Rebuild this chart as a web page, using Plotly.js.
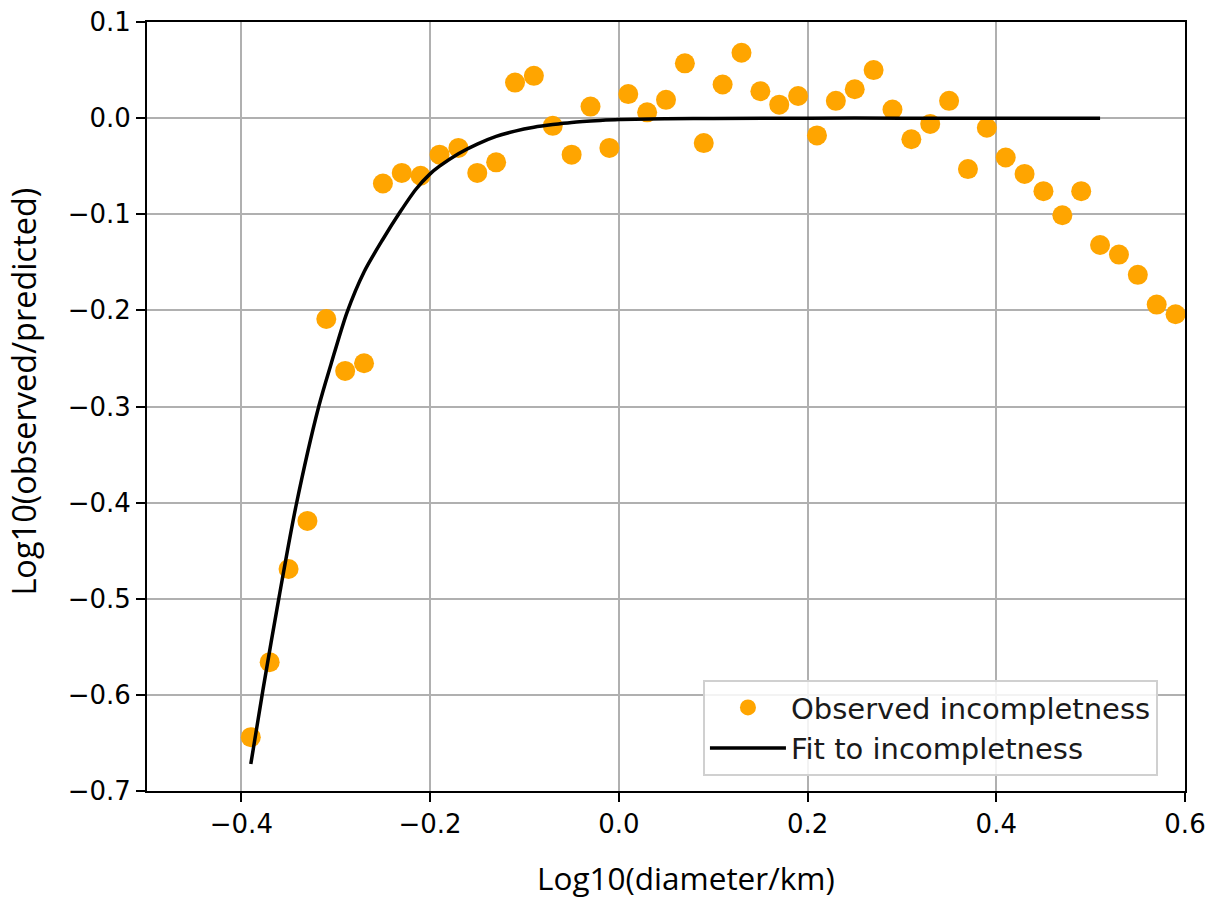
<!DOCTYPE html>
<html>
<head>
<meta charset="utf-8">
<script src="https://cdn.plot.ly/plotly-3.0.1.min.js"></script>
<style>
  html, body { margin: 0; padding: 0; background: #ffffff; }
  #chart { width: 1216px; height: 902px; }
</style>
</head>
<body>
<div id="chart"></div>
<script>
// Observed incompleteness points
const obsX = [-0.39, -0.37, -0.35, -0.33, -0.31, -0.29, -0.27, -0.25, -0.23, -0.21,
              -0.19, -0.17, -0.15, -0.13, -0.11, -0.09, -0.07, -0.05, -0.03, -0.01,
               0.01,  0.03,  0.05,  0.07,  0.09,  0.11,  0.13,  0.15,  0.17,  0.19,
               0.21,  0.23,  0.25,  0.27,  0.29,  0.31,  0.33,  0.35,  0.37,  0.39,
               0.41,  0.43,  0.45,  0.47,  0.49,  0.51,  0.53,  0.55,  0.57,  0.59];
const obsY = [-0.644, -0.566, -0.469, -0.419, -0.209, -0.263, -0.255, -0.068, -0.057, -0.060,
              -0.038, -0.031, -0.057, -0.046,  0.037,  0.044, -0.008, -0.038,  0.012, -0.031,
               0.025,  0.006,  0.019,  0.057, -0.026,  0.035,  0.068,  0.028,  0.014,  0.023,
              -0.018,  0.018,  0.030,  0.050,  0.009, -0.022, -0.006,  0.018, -0.053, -0.010,
              -0.041, -0.058, -0.076, -0.101, -0.076, -0.132, -0.142, -0.163, -0.194, -0.204];

// Fit curve, points
const fitX = [-0.39, -0.377, -0.36, -0.342, -0.318, -0.305, -0.288, -0.27, -0.25, -0.232,
              -0.215, -0.2, -0.19, -0.17, -0.15, -0.13, -0.11, -0.09, -0.07, -0.05,
              -0.02, 0.0, 0.05, 0.1, 0.2, 0.3, 0.4, 0.51];
const fitY = [-0.672, -0.594, -0.498, -0.403, -0.3, -0.256, -0.202, -0.16, -0.126, -0.098,
              -0.074, -0.058, -0.05, -0.037, -0.027, -0.019, -0.0135, -0.0095, -0.0067, -0.0045,
              -0.0025, -0.0015, -0.0007, -0.0003, 0, 0, 0, 0];

const seriesNames = ['Observed incompletness', 'Fit to incompletness'];
const xTitle = 'Log10(diameter/km)';
const yTitle = 'Log10(observed/predicted)';

const traces = [
  {
    x: obsX, y: obsY, type: 'scatter', mode: 'markers', name: seriesNames[0],
    marker: { color: '#ffa500', size: 20, line: { width: 0 } }
  },
  {
    x: fitX, y: fitY, type: 'scatter', mode: 'lines', name: seriesNames[1],
    line: { color: '#000000', width: 3.5, shape: 'spline', smoothing: 0.8 }
  }
];

const tickFont = { family: 'DejaVu Sans', size: 26, color: '#000000' };

const axisCommon = {
  showline: true, linecolor: '#000000', linewidth: 2, mirror: true,
  ticks: 'outside', ticklen: 9, tickwidth: 2, tickcolor: '#000000',
  showgrid: true, gridcolor: '#b0b0b0', gridwidth: 2,
  zeroline: false, automargin: false, tickfont: tickFont,
  tickformat: '.1f'
};

const layout = {
  width: 1216, height: 902,
  margin: { l: 147, r: 31, t: 22, b: 111 },
  paper_bgcolor: '#ffffff', plot_bgcolor: '#ffffff',
  showlegend: true,
  xaxis: Object.assign({}, axisCommon, { range: [-0.5, 0.6], tick0: 0, dtick: 0.2 }),
  yaxis: Object.assign({}, axisCommon, { range: [-0.7, 0.1], tick0: 0, dtick: 0.1 }),
  annotations: [
    {
      text: xTitle, xref: 'paper', yref: 'paper', x: 0.519, y: -0.082,
      xanchor: 'center', yanchor: 'top', showarrow: false,
      font: { family: 'Open Sans', size: 31.5, color: '#000000' }
    },
    {
      text: yTitle, xref: 'paper', yref: 'paper', x: -0.119, y: 0.52,
      xanchor: 'center', yanchor: 'middle', showarrow: false, textangle: -90,
      font: { family: 'Open Sans', size: 32.5, color: '#000000' }
    }
  ],
  legend: {
    x: 0.5356, y: 0.1443, xanchor: 'left', yanchor: 'top',
    bgcolor: 'rgba(255,255,255,0.85)', bordercolor: '#d0d0d0', borderwidth: 2,
    font: { family: 'DejaVu Sans', size: 29, color: '#1a1a1a' },
    itemwidth: 76, tracegroupgap: 0
  }
};

Plotly.newPlot('chart', traces, layout, { displayModeBar: false, staticPlot: true });
</script>
</body>
</html>
